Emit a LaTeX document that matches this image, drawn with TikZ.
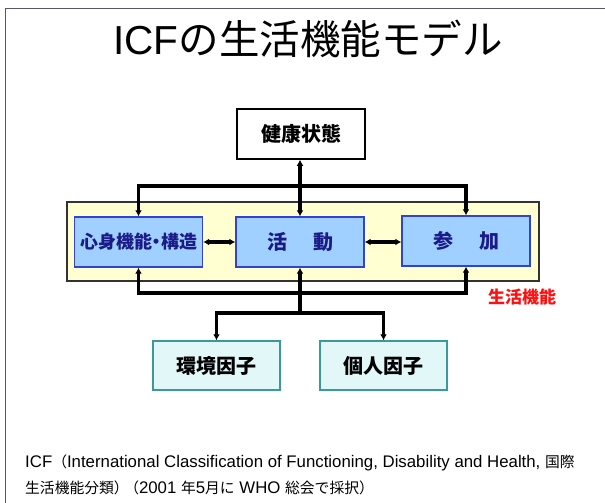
\documentclass[tikz,border=0pt]{standalone}
\usepackage{fontspec}
\setmainfont{Liberation Sans}
\newfontfamily\jp{Noto Sans CJK JP}
\newfontfamily\jpf{Noto Sans CJK JP}[Scale=0.88]
\usetikzlibrary{arrows.meta}
\definecolor{framec}{HTML}{55557A}
\definecolor{bandfill}{HTML}{FFFFD2}
\definecolor{bluefill}{HTML}{A0D0FF}
\definecolor{blueline}{HTML}{3344CC}
\definecolor{bluetext}{HTML}{1A1A88}
\definecolor{cyanfill}{HTML}{E2F8F8}
\definecolor{cyanline}{HTML}{3A9A9A}
\definecolor{redlabel}{HTML}{FF1010}
\tikzset{
  whitebox/.style={draw=black, line width=1.6pt, fill=white, minimum width=128pt, minimum height=50pt, inner sep=0pt, font=\fontsize{20}{20}\selectfont\jp\bfseries},
  bluebox/.style={draw=blueline, line width=1.4pt, fill=bluefill, minimum width=128pt, minimum height=50pt, inner sep=0pt, text=bluetext, font=\fontsize{20}{20}\selectfont\jp\bfseries},
  cyanbox/.style={draw=cyanline, line width=1.4pt, fill=cyanfill, minimum width=127pt, minimum height=49pt, inner sep=0pt, font=\fontsize{20}{20}\selectfont\jp\bfseries},
  band/.style={draw=black!80, line width=1.4pt, fill=bandfill, minimum width=472pt, minimum height=79pt, inner sep=0pt},
  conn/.style={line width=3.4pt, line join=miter, -{Latex[length=6pt,width=7pt]}},
  conn2/.style={line width=3.4pt, {Latex[length=6pt,width=7pt]}-{Latex[length=6pt,width=7pt]}},
  plain/.style={inner sep=0pt},
  foottext/.style={plain, anchor=west, font=\fontsize{16.8}{16.8}\selectfont}
}
\begin{document}
\begin{tikzpicture}[x=1pt,y=-1pt]
\useasboundingbox (0,0) rectangle (605,503);
\fill[white] (0,0) rectangle (605,503);
\draw[framec, line width=1.6pt] (5.5,503) -- (5.5,8.5) -- (605,8.5);
% title
\node[plain] (title) at (308,39) {\fontsize{40.5}{40.5}\selectfont ICF{\jp の生活機能モデル}};
% band
\node[band] (band) at (303,241.5) {};
% boxes
\node[whitebox] (health) at (301,134) {健康状態};
\node[bluebox, font=\fontsize{18}{18}\selectfont\jp\bfseries] (body) at (138.5,242) {心身機能\hspace{-0.25em}・\hspace{-0.25em}構造};
\node[bluebox] (act) at (300,242) {活\hspace{1.3em}動};
\node[bluebox] (part) at (466,241) {参\hspace{1.3em}加};
\node[cyanbox] (env) at (216.5,365.5) {環境因子};
\node[cyanbox] (pers) at (383.5,365.5) {個人因子};
\node[plain, text=redlabel, font=\fontsize{17}{17}\selectfont\jp\bfseries] (lab) at (522,297) {生活機能};
% bus coordinates
\coordinate (topbus) at (300,186);
\coordinate (botbus) at (300,293);
\coordinate (split) at (300,313);
% connectors
\draw[conn2] (health.south -| act.north) -- (act.north);
\draw[conn] (topbus) -| (body.north);
\draw[conn] (topbus) -| (part.north);
\draw[conn] (botbus) -| (body.south);
\draw[conn] (botbus) -| (part.south);
\draw[conn] (split) -- (act.south);
\draw[conn] (split) -| (env.north);
\draw[conn] (split) -| (pers.north);
\draw[conn2] (body.east) -- (act.west);
\draw[conn2] (act.east) -- (act.east -| part.west);
% footer
\node[foottext] (foot1) at (25,463) {ICF{\jpf （}International Classification of Functioning, Disability and Health, {\jpf 国際}};
\node[foottext] (foot2) at (25,488) {{\jpf 生活機能分類）\hspace{-0.3em}（}2001 {\jpf 年}5{\jpf 月に} WHO {\jpf 総会で採択）}};
\end{tikzpicture}
\end{document}
